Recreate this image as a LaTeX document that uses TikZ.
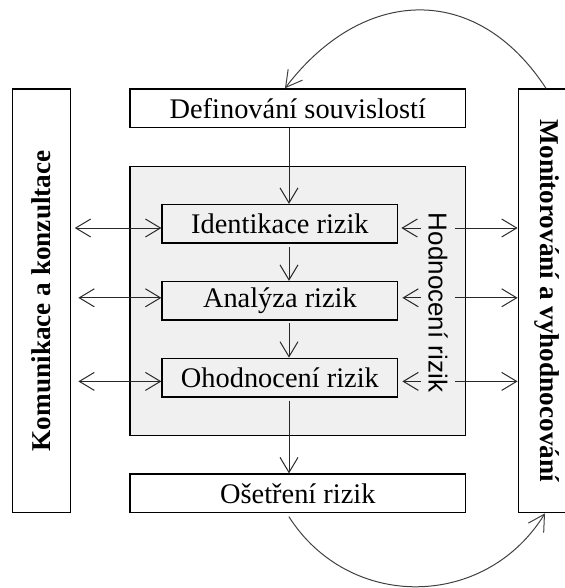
\documentclass[tikz,border=0pt]{standalone}
\usepackage{fontspec}
\setmainfont{Liberation Serif}
\newfontfamily\hodfont{Liberation Sans}
\usetikzlibrary{arrows.meta}
\definecolor{graybg}{RGB}{240,240,240}
\definecolor{linec}{RGB}{40,40,40}
\begin{document}
\begin{tikzpicture}[x=0.5pt,y=-0.5pt,
  box/.style={draw=black, line width=0.65pt, fill=white, inner sep=0pt,
    font=\fontsize{14.2pt}{16pt}\selectfont},
  smallbox/.style={box, minimum width=117.85pt, minimum height=19.3pt},
  widebox/.style={box, minimum width=167.85pt, minimum height=19.3pt},
  sidebox/.style={draw=black, line width=0.65pt, fill=white,
    minimum width=29.2pt, minimum height=211.85pt, inner sep=0pt},
  sidelabel/.style={font=\fontsize{13.6pt}{16pt}\selectfont\bfseries, inner sep=0pt},
  tip/.style={Straight Barb[length=7.5pt,width=9pt]},
  arr/.style={draw=linec, line width=0.5pt, -{Straight Barb[length=7.5pt,width=9pt]}},
  darr/.style={draw=linec, line width=0.5pt, {Straight Barb[length=7.5pt,width=9pt]}-{Straight Barb[length=7.5pt,width=9pt]}},
  curvearr/.style={draw=black!75, line width=0.5pt, -{Straight Barb[length=8pt,width=9pt]}}
]
\useasboundingbox (0,0) rectangle (564,588);

% big grey area
\node[draw=black, line width=0.65pt, fill=graybg, minimum width=167.85pt,
      minimum height=134.5pt, inner sep=0pt] (grey) at (297.8,300.8) {};

% side boxes
\node[sidebox] (kom) at (41.5,300.85) {};
\node[sidelabel, rotate=90] (komt) at (kom.center) {Komunikace a konzultace};
\node[sidebox] (mon) at (547.5,300.85) {};
\node[sidelabel, rotate=-90] (mont) at (mon.center) {Monitorování a vyhodnocování};

% main boxes
\node[widebox] (def) at (297.8,108.2) {Definování souvislostí};
\node[smallbox, fill=graybg] (ident) at (279.9,223.8) {Identikace rizik};
\node[smallbox, fill=graybg] (anal) at (279.9,300.8) {Analýza rizik};
\node[smallbox, fill=graybg] (ohod) at (279.9,377.6) {Ohodnocení rizik};
\node[widebox] (oset) at (297.8,493.3) {Ošetření rizik};

% vertical flow
\coordinate (vx) at (289,0);
\draw[arr] (def.south -| vx) -- (ident.north -| vx);
\draw[arr, shorten <=1.5pt] (ident.south -| vx) -- (anal.north -| vx);
\draw[arr, shorten <=1pt] (anal.south -| vx) -- (ohod.north -| vx);
\draw[arr, shorten <=1.5pt] (ohod.south -| vx) -- (oset.north -| vx);

% left communication arrows
\draw[darr, shorten <=1.7pt] ([yshift=-2.1pt]ident.west -| kom.east) -- ([yshift=-2.1pt]ident.west);
\draw[darr, shorten <=3.5pt] ([yshift=1.5pt]anal.west -| kom.east) -- ([yshift=1.5pt]anal.west);
\draw[darr, shorten <=3.5pt] ([yshift=-1.9pt]ohod.west -| kom.east) -- ([yshift=-1.9pt]ohod.west);

% right monitoring arrows
\draw[darr, shorten <=1.5pt] ([yshift=-2.1pt]ident.east) -- ([yshift=-2.1pt]ident.east -| mon.west);
\draw[darr, shorten <=2pt] ([yshift=1.5pt]anal.east) -- ([yshift=1.5pt]anal.east -| mon.west);
\draw[darr, shorten <=2pt] ([yshift=-1.9pt]ohod.east) -- ([yshift=-1.9pt]ohod.east -| mon.west);

% vertical label of the grey area
\node[rotate=-90, fill=graybg, font=\hodfont\fontsize{13pt}{15pt}\selectfont,
      inner xsep=1pt, inner ysep=3.75pt] (hod) at (438,302.5) {Hodnocení rizik};

% feedback curves
\draw[curvearr] ([xshift=-0.75pt]mon.north) .. controls (476,-19) and (362,-13) .. ([xshift=-6.4pt]def.north);
\draw[curvearr, shorten <=2pt] ([xshift=-5.55pt]oset.south) .. controls (349,611) and (485,610) .. ([xshift=-1.25pt]mon.south);
\end{tikzpicture}
\end{document}
